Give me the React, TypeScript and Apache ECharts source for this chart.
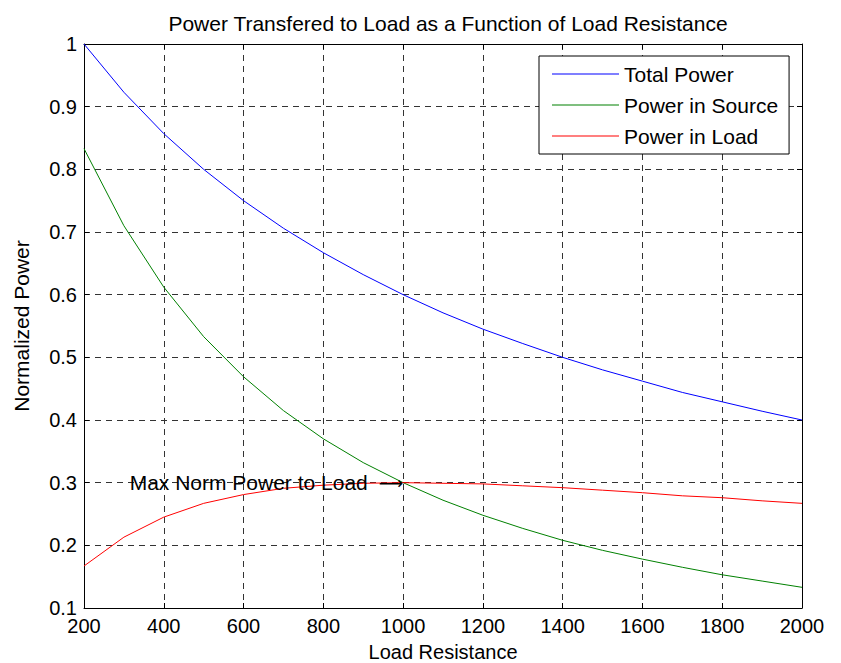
import React, { useEffect, useRef } from "react";
import * as echarts from "echarts";

const resistance = [200, 300, 400, 500, 600, 700, 800, 900, 1000, 1100, 1200, 1300, 1400, 1500, 1600, 1700, 1800, 1900, 2000];
const totalPower = [1.0, 0.923, 0.857, 0.8, 0.75, 0.706, 0.667, 0.632, 0.6, 0.571, 0.545, 0.522, 0.5, 0.48, 0.462, 0.444, 0.429, 0.414, 0.4];
const sourcePower = [0.833, 0.71, 0.612, 0.533, 0.469, 0.415, 0.37, 0.332, 0.3, 0.272, 0.248, 0.227, 0.208, 0.192, 0.178, 0.165, 0.153, 0.143, 0.133];
const loadPower = [0.167, 0.213, 0.245, 0.267, 0.281, 0.291, 0.296, 0.299, 0.3, 0.299, 0.298, 0.295, 0.292, 0.288, 0.284, 0.279, 0.276, 0.271, 0.267];
const seriesNames = ["Total Power", "Power in Source", "Power in Load"];
const seriesColors = ["#0000ff", "#008000", "#ff0000"];
const annotationText = "Max Norm Power to Load";
const annotationPoint = [1000, 0.3];

const FONT = "Liberation Sans, Arial, sans-serif";

export default function App() {
  const ref = useRef<HTMLDivElement>(null);
  useEffect(() => {
    const chart = echarts.init(ref.current!, null, { renderer: "svg" });
    const pair = (ys: number[]) => resistance.map((x, i) => [x, ys[i]]);
    const gridLine = { show: true, lineStyle: { color: "#333", type: [6, 5], width: 1 } };
    const axisBase = {
      type: "value" as const,
      axisLine: { show: true, onZero: false, lineStyle: { color: "#000", width: 1 } },
      axisTick: { show: true, inside: true, length: 5, lineStyle: { color: "#000" } },
    };
    chart.setOption({
      animation: false,
      backgroundColor: "#fff",
      title: {
        text: "Power Transfered to Load as a Function of Load Resistance",
        left: 443,
        textAlign: "center",
        top: 8,
        textStyle: { fontFamily: FONT, fontSize: 21, fontWeight: "normal", color: "#000" },
      },
      grid: { left: 84, right: 39, top: 44, bottom: 55, containLabel: false, outerBoundsMode: "none" },
      legend: {
        orient: "vertical",
        left: 539,
        top: 56,
        padding: [6, 11, 6, 13],
        itemGap: 7,
        itemWidth: 67,
        itemHeight: 1,
        icon: "rect",
        borderColor: "#000",
        borderWidth: 1,
        backgroundColor: "#fff",
        textStyle: { fontFamily: FONT, fontSize: 21, color: "#000", lineHeight: 24 },
        data: seriesNames,
      },
      xAxis: [
        {
          ...axisBase,
          min: 200,
          max: 2000,
          interval: 200,
          name: "Load Resistance",
          nameLocation: "middle",
          nameGap: 34,
          nameTextStyle: { fontFamily: FONT, fontSize: 20, color: "#000" },
          axisLabel: {
            fontFamily: FONT,
            fontSize: 20,
            color: "#000",
            margin: 8,
            formatter: (v: number) => String(v),
          },
          splitLine: gridLine,
        },
        {
          ...axisBase,
          position: "top",
          min: 200,
          max: 2000,
          interval: 200,
          axisLabel: { show: false },
          splitLine: { show: false },
        },
      ],
      yAxis: [
        {
          ...axisBase,
          min: 0.1,
          max: 1,
          interval: 0.1,
          name: "Normalized Power",
          nameLocation: "middle",
          nameGap: 52,
          nameTextStyle: { fontFamily: FONT, fontSize: 21, color: "#000" },
          axisLabel: {
            fontFamily: FONT,
            fontSize: 20,
            color: "#000",
            margin: 7,
            formatter: (v: number) => String(Math.round(v * 10) / 10),
          },
          splitLine: gridLine,
        },
        {
          ...axisBase,
          position: "right",
          min: 0.1,
          max: 1,
          interval: 0.1,
          axisLabel: { show: false },
          splitLine: { show: false },
        },
      ],
      series: [
        {
          name: seriesNames[0],
          type: "line",
          data: pair(totalPower),
          showSymbol: false,
          lineStyle: { color: seriesColors[0], width: 1 },
          itemStyle: { color: seriesColors[0] },
        },
        {
          name: seriesNames[1],
          type: "line",
          data: pair(sourcePower),
          showSymbol: false,
          lineStyle: { color: seriesColors[1], width: 1 },
          itemStyle: { color: seriesColors[1] },
        },
        {
          name: seriesNames[2],
          type: "line",
          data: pair(loadPower),
          showSymbol: false,
          lineStyle: { color: seriesColors[2], width: 1 },
          itemStyle: { color: seriesColors[2] },
          markPoint: {
            symbol: "circle",
            symbolSize: 0,
            data: [
              {
                coord: annotationPoint,
                label: {
                  show: true,
                  position: "left",
                  distance: 0,
                  formatter: "{t|" + annotationText + "}{a|⟶}",
                  rich: {
                    t: { fontFamily: FONT, fontSize: 21, color: "#000" },
                    a: { fontFamily: "DejaVu Sans", fontSize: 17, color: "#000", padding: [0, 0, 0, 11] },
                  },
                },
              },
            ],
          },
        },
      ],
    });
    return () => chart.dispose();
  }, []);
  return <div ref={ref} style={{ width: 841, height: 663, position: "absolute", left: 0, top: 0 }} />;
}
